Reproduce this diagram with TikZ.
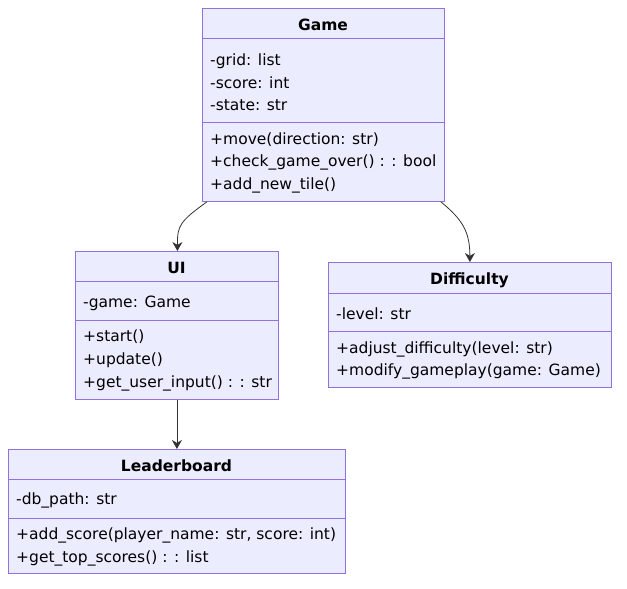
\documentclass[tikz,border=0pt]{standalone}
\usepackage{fontspec}
\setmainfont{DejaVu Sans}
\usetikzlibrary{arrows.meta}
\tikzset{>={Stealth[length=9pt,width=10pt]}}
\definecolor{classfill}{HTML}{ECECFF}
\definecolor{classline}{HTML}{9370DB}
\definecolor{edgeline}{HTML}{333333}
\tikzset{
  classbox/.style={draw=classline, fill=classfill, line width=0.8pt, inner sep=0pt, anchor=north west},
  classtitle/.style={font=\fontsize{15.5}{18}\selectfont\bfseries, text=black, inner sep=0pt, yshift=-1pt},
  member/.style={font=\fontsize{15.5}{18}\selectfont, text=black, anchor=west, inner sep=0pt, yshift=-1pt},
  divider/.style={draw=classline, line width=0.8pt},
  relation/.style={->, draw=edgeline, line width=0.8pt}
}

\begin{document}
\begin{tikzpicture}[x=1pt, y=-1pt]
    \useasboundingbox (0, 0) rectangle (627, 589);
    % Game
    \node[classbox, minimum width=242pt, minimum height=193pt] (game) at (202, 8) {};
    \draw[divider] (202, 38) -- (444, 38);
    \draw[divider] (202, 122) -- (444, 122);
    \node[classtitle] (gametitle) at (323, 24) {Game};
    \node[member] (gamegrid) at (210, 60) {-grid: list};
    \node[member] (gamescore) at (210, 82) {-score: int};
    \node[member] (gamestate) at (210, 104) {-state: str};
    \node[member] (gamemove) at (210, 139) {+move(direction: str)};
    \node[member] (gameover) at (210, 161) {+check\_game\_over() : : bool};
    \node[member] (gametile) at (210, 184) {+add\_new\_tile()};
    % UI
    \node[classbox, minimum width=203pt, minimum height=148pt] (ui) at (75, 251) {};
    \draw[divider] (75, 281) -- (278, 281);
    \draw[divider] (75, 320) -- (278, 320);
    \node[classtitle] (uititle) at (176.5, 267) {UI};
    \node[member] (uigame) at (83, 302) {-game: Game};
    \node[member] (uistart) at (83, 336) {+start()};
    \node[member] (uiupdate) at (83, 359) {+update()};
    \node[member] (uiinput) at (83, 382) {+get\_user\_input() : : str};
    % Difficulty
    \node[classbox, minimum width=283pt, minimum height=125pt] (diff) at (328, 262) {};
    \draw[divider] (328, 293) -- (611, 293);
    \draw[divider] (328, 331) -- (611, 331);
    \node[classtitle] (difftitle) at (469.5, 279) {Difficulty};
    \node[member] (difflevel) at (336, 313) {-level: str};
    \node[member] (diffadjust) at (336, 348) {+adjust\_difficulty(level: str)};
    \node[member] (diffmodify) at (336, 370) {+modify\_gameplay(game: Game)};
    % Leaderboard
    \node[classbox, minimum width=337pt, minimum height=124pt] (board) at (8, 449) {};
    \draw[divider] (8, 479) -- (345, 479);
    \draw[divider] (8, 518) -- (345, 518);
    \node[classtitle] (boardtitle) at (176.5, 465) {Leaderboard};
    \node[member] (boardpath) at (16, 499) {-db\_path: str};
    \node[member] (boardadd) at (16, 534) {+add\_score(player\_name: str, score: int)};
    \node[member] (boardtop) at (16, 557) {+get\_top\_scores() : : list};
    % relations
    \coordinate (gameleft) at ([xshift=5pt]game.south west);
    \coordinate (gameright) at ([xshift=-4pt]game.south east);
    \coordinate (uitop) at ([xshift=0.5pt]ui.north);
    \draw[relation] (gameleft) .. controls +(-28, 20) and +(0, -25) .. (uitop);
    \draw[relation] (gameright) .. controls +(22, 18) and +(0, -30) .. (diff.north);
    \draw[relation] (ui.south) -- (board.north -| ui.south);
\end{tikzpicture}
\end{document}
